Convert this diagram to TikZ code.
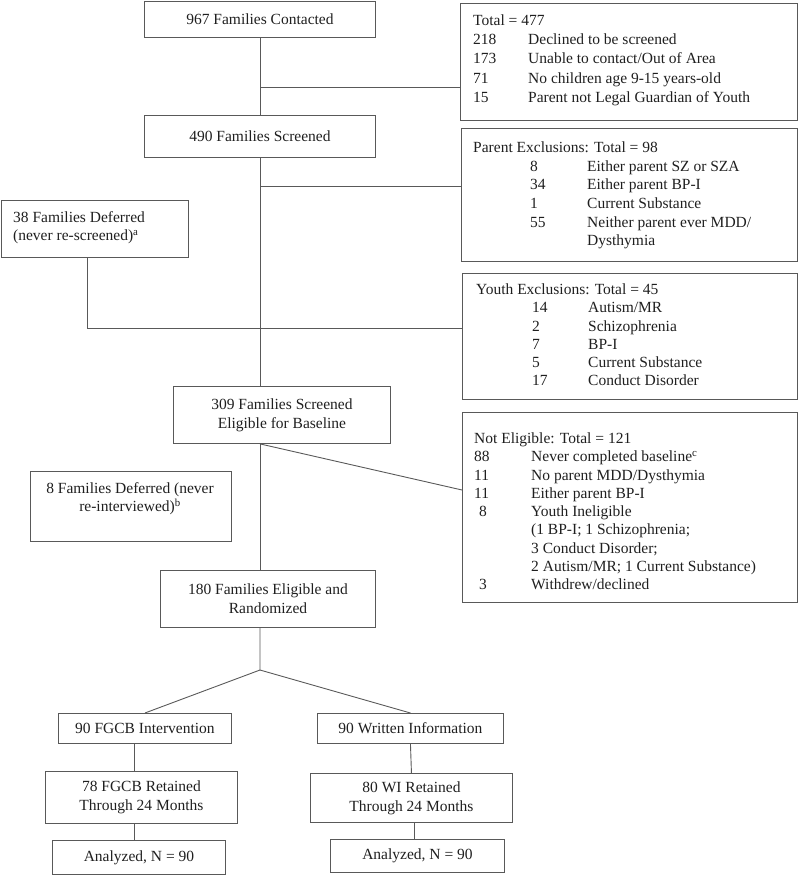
\documentclass[tikz,border=0pt]{standalone}
\usepackage{fontspec}
\setmainfont{Liberation Serif}
\begin{document}
\begin{tikzpicture}[x=1pt,y=-1pt,
 box/.style={draw=black!65, line width=0.9pt, inner sep=0pt, anchor=north west, align=center, font=\fontsize{15.5}{19}\selectfont, text=black!88},
 txt/.style={inner sep=0pt, anchor=north west, align=left, font=\fontsize{15.5}{18.6}\selectfont, text=black!88},
 ln/.style={draw=black!65, line width=0.9pt}]
\useasboundingbox (0,0) rectangle (800,877);
% main column
\node[box, minimum width=231, minimum height=36] (c1) at (144,1) {967 Families Contacted};
\node[box, minimum width=231, minimum height=42] (c2) at (144,115) {490 Families Screened};
\node[box, minimum width=217, minimum height=57] (e309) at (173,386) {309 Families Screened\\Eligible for Baseline};
\node[box, minimum width=215, minimum height=57] (rand) at (160,570) {180 Families Eligible and\\Randomized};
\node[box, minimum width=173, minimum height=30] (fg) at (58,713) {90 FGCB Intervention};
\node[box, minimum width=186, minimum height=30] (wi) at (317,713) {90 Written Information};
\node[box, minimum width=192, minimum height=52] (fgr) at (45,771) {78 FGCB Retained\\Through 24 Months};
\node[box, minimum width=202, minimum height=49] (wir) at (310,773) {80 WI Retained\\Through 24 Months};
\node[box, minimum width=173, minimum height=34] (fga) at (52,840) {Analyzed, N = 90};
\node[box, minimum width=174, minimum height=33] (wia) at (330,839) {Analyzed, N = 90};
% deferred boxes
\node[box, minimum width=187, minimum height=57] (d38) at (1,200) {};
\node[txt] (d38t) at (13,211) {38 Families Deferred\\(never re-screened)\textsuperscript{a}};
\node[box, minimum width=201, minimum height=70] (d8) at (30,471) {};
\node[txt, anchor=north, align=center] (d8t) at (130,482) {8 Families Deferred (never\\re-interviewed)\textsuperscript{b}};
% right boxes
\node[box, minimum width=337, minimum height=117] (r1) at (460,3) {};
\node[box, minimum width=336, minimum height=133] (r2) at (461,128) {};
\node[box, minimum width=335, minimum height=126] (r3) at (462,273) {};
\node[box, minimum width=335, minimum height=190] (r4) at (462,412) {};
\node[txt, font=\fontsize{15.5}{19.2}\selectfont] (r1t) at (473,14.5) {Total = 477\\
\makebox[55pt][l]{218}Declined to be screened\\
\makebox[55pt][l]{173}Unable to contact/Out of Area\\
\makebox[55pt][l]{71}No children age 9-15 years-old\\
\makebox[55pt][l]{15}Parent not Legal Guardian of Youth};
\node[txt, font=\fontsize{15.5}{18.7}\selectfont] (r2t) at (473,141.5) {Parent Exclusions: Total = 98\\
\hspace*{57pt}\makebox[57pt][l]{8}Either parent SZ or SZA\\
\hspace*{57pt}\makebox[57pt][l]{34}Either parent BP-I\\
\hspace*{57pt}\makebox[57pt][l]{1}Current Substance\\
\hspace*{57pt}\makebox[57pt][l]{55}Neither parent ever MDD/\\
\hspace*{114pt}Dysthymia};
\node[txt, font=\fontsize{15.5}{18.3}\selectfont] (r3t) at (476,283.5) {Youth Exclusions: Total = 45\\
\hspace*{56pt}\makebox[56pt][l]{14}Autism/MR\\
\hspace*{56pt}\makebox[56pt][l]{2}Schizophrenia\\
\hspace*{56pt}\makebox[56pt][l]{7}BP-I\\
\hspace*{56pt}\makebox[56pt][l]{5}Current Substance\\
\hspace*{56pt}\makebox[56pt][l]{17}Conduct Disorder};
\node[txt, font=\fontsize{15.5}{18.3}\selectfont] (r4t) at (474,432.5) {Not Eligible: Total = 121\\
\makebox[57pt][l]{88}Never completed baseline\textsuperscript{c}\\
\makebox[57pt][l]{11}No parent MDD/Dysthymia\\
\makebox[57pt][l]{11}Either parent BP-I\\
\makebox[57pt][l]{\hspace*{5pt}8}Youth Ineligible\\
\hspace*{57pt}(1 BP-I; 1 Schizophrenia;\\
\hspace*{57pt}3 Conduct Disorder;\\
\hspace*{57pt}2 Autism/MR; 1 Current Substance)\\
\makebox[57pt][l]{\hspace*{5pt}3}Withdrew/declined};
% connectors
\coordinate (j1) at (260,87);
\coordinate (j2) at (260,186);
\coordinate (k1) at (87,328);
\coordinate (q4) at (462,490);
\coordinate (sp) at (260,670);
\coordinate (xl) at (134,0);
\coordinate (xr) at (414,0);
\draw[ln] (c1.south -| j1) -- (c2.north -| j1);
\draw[ln] (j1) -- (j1 -| r1.west);
\draw[ln] (c2.south -| j1) -- (e309.north -| j1);
\draw[ln] (j2) -- (j2 -| r2.west);
\draw[ln] (d38.south -| k1) -- (k1) -- (k1 -| r3.west);
\draw[ln] (e309.south -| j1) -- (rand.north -| j1);
\draw[ln] (e309.south -| j1) -- (q4);
\draw[ln] (rand.south -| j1) -- (sp) -- (fg.north);
\draw[ln] (sp) -- (wi.north);
\draw[ln] (fg.south -| xl) -- (fgr.north -| xl);
\draw[ln] (fgr.south -| xl) -- (fga.north -| xl);
\draw[ln] (wi.south) -- (wir.north);
\draw[ln] (wir.south -| xr) -- (wia.north -| xr);
\end{tikzpicture}
\end{document}
